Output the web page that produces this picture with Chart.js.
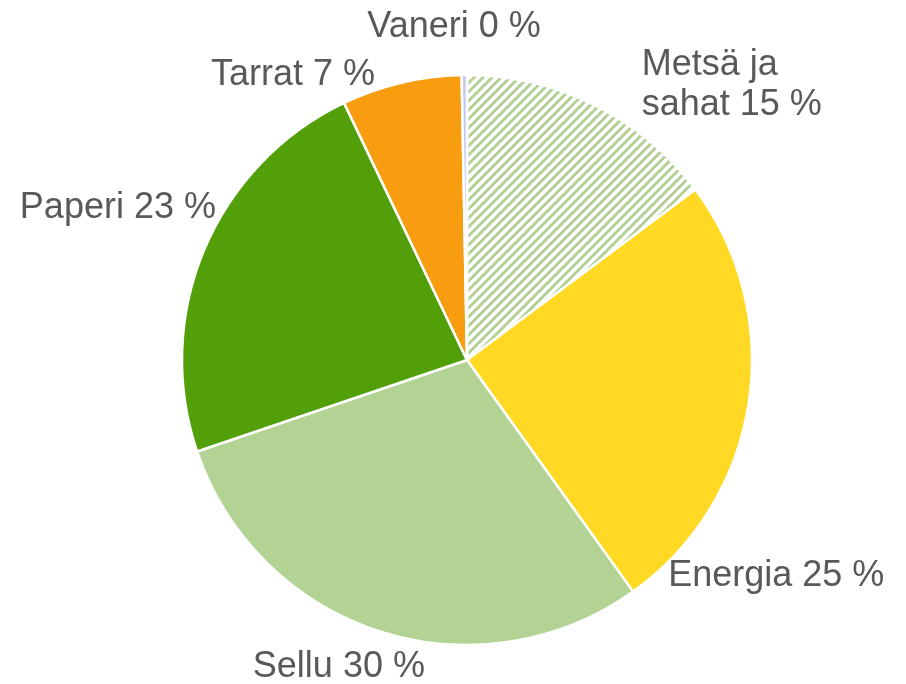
<!DOCTYPE html>
<html>
<head>
<meta charset="utf-8">
<script src="https://cdn.jsdelivr.net/npm/chart.js@4.4.1/dist/chart.umd.min.js"></script>
<style>
  html, body { margin: 0; padding: 0; background: #ffffff; }
  #wrap { width: 906px; height: 684px; }
</style>
</head>
<body>
<div id="wrap"><canvas id="c" width="906" height="684"></canvas></div>
<script>
// ---- data ----
const categories = [['Metsä ja', 'sahat'], 'Energia', 'Sellu', 'Paperi', 'Tarrat', 'Vaneri'];
const shares = [14.8, 25.3, 29.7, 23.1, 6.8, 0.3];

// ---- styling (kept apart from data) ----
const labelPlacement = [
  { angle: 31.5,  dist: 1.173, align: 'left'   },
  { angle: 138.3, dist: 1.061, align: 'left'   },
  { angle: 202.0, dist: 1.200, align: 'center' },
  { angle: 299.5, dist: 1.012, align: 'right'  },
  { angle: 341.5, dist: 1.018, align: 'right'  },
  { angle: -2.3,  dist: 1.134, align: 'center' }
];

function hatchPattern() {
  const n = 9;
  const t = document.createElement('canvas');
  t.width = n; t.height = n;
  const g = t.getContext('2d');
  g.fillStyle = '#ffffff';
  g.fillRect(0, 0, n, n);
  g.fillStyle = '#B2D393';
  for (let y = 0; y < n; y++) {
    for (let x = 0; x < n; x++) {
      if ((x + y) % n < 4) g.fillRect(x, y, 1, 1);
    }
  }
  return g.createPattern(t, 'repeat');
}

const ctxMain = document.getElementById('c').getContext('2d');
const colors = [hatchPattern(), '#FFD923', '#B2D393', '#529F0A', '#F79D0F', '#C6C8F2'];

const labelPlugin = {
  id: 'outerLabels',
  afterDatasetsDraw(chart) {
    const ctx = chart.ctx;
    const meta = chart.getDatasetMeta(0);
    const arc0 = meta.data[0];
    const cx = arc0.x, cy = arc0.y, r = arc0.outerRadius;
    const total = shares.reduce((a, b) => a + b, 0);
    ctx.save();
    ctx.font = '36px "Liberation Sans", Arial, sans-serif';
    ctx.fillStyle = '#595959';
    ctx.textBaseline = 'alphabetic';
    categories.forEach((cat, i) => {
      const p = labelPlacement[i];
      const a = p.angle * Math.PI / 180;
      const x = cx + r * p.dist * Math.sin(a);
      const y = cy - r * p.dist * Math.cos(a);
      const pct = Math.round(shares[i] / total * 100) + ' %';
      const lines = Array.isArray(cat) ? cat.slice() : [cat];
      lines[lines.length - 1] = lines[lines.length - 1] + ' ' + pct;
      ctx.textAlign = p.align;
      lines.forEach((ln, k) => ctx.fillText(ln, x, y + k * 40));
    });
    ctx.restore();
  }
};

new Chart(ctxMain, {
  type: 'pie',
  data: {
    labels: categories,
    datasets: [{
      data: shares,
      backgroundColor: colors,
      borderColor: '#ffffff',
      borderWidth: 2.5
    }]
  },
  options: {
    responsive: false,
    animation: false,
    radius: 285,
    layout: { padding: { left: 181, top: 74, right: 153, bottom: 38 } },
    plugins: {
      legend: { display: false },
      tooltip: { enabled: false }
    }
  },
  plugins: [labelPlugin]
});
</script>
</body>
</html>
